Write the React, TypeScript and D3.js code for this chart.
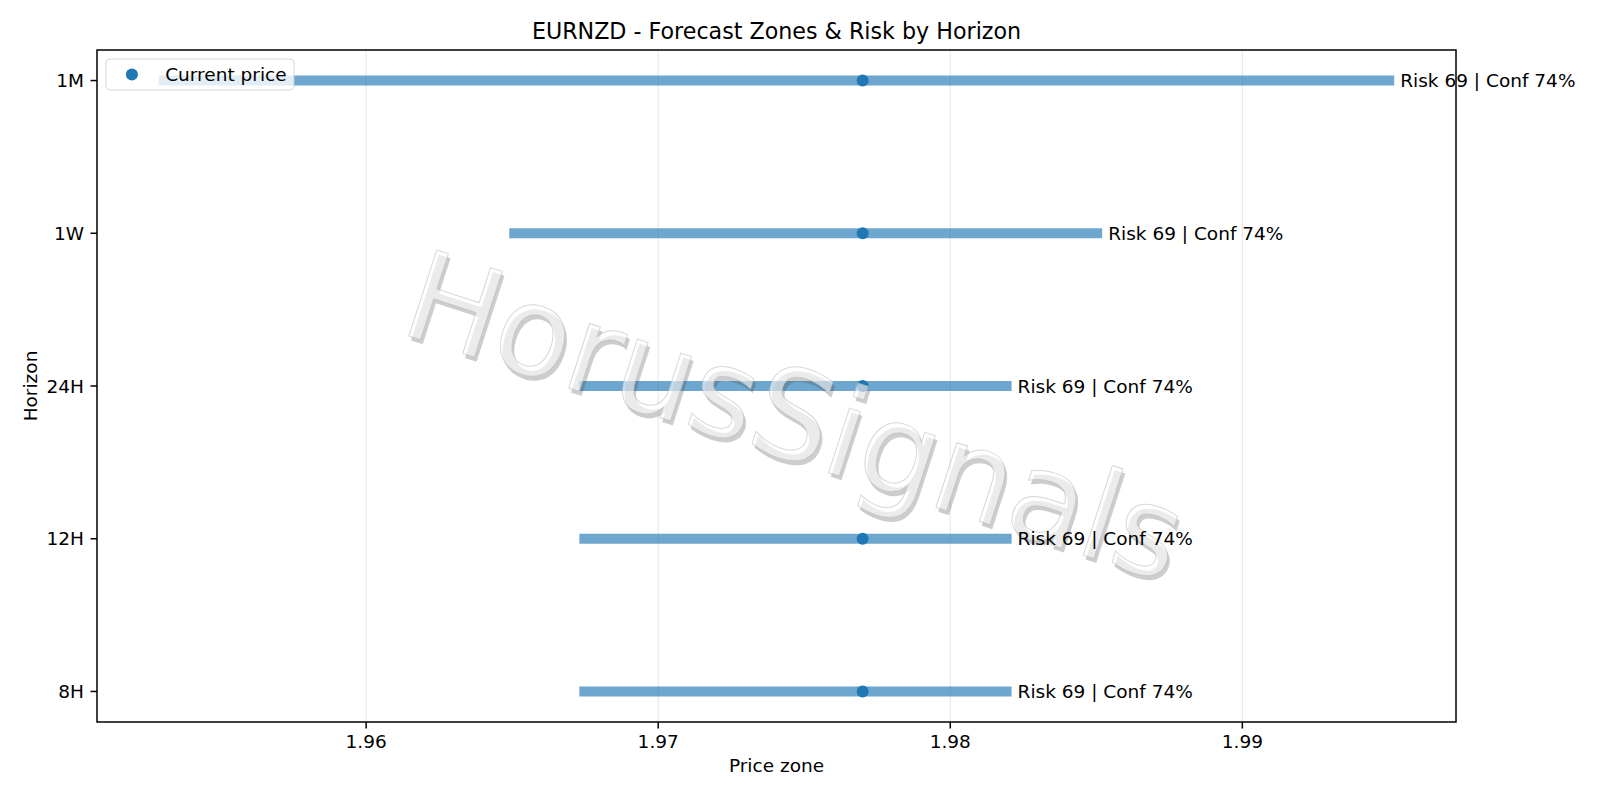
import React from "react";
import * as d3 from "d3";

const horizons = ["8H", "12H", "24H", "1W", "1M"];
const zoneLow = [1.9673, 1.9673, 1.9673, 1.9649, 1.9529];
const zoneHigh = [1.9821, 1.9821, 1.9821, 1.9852, 1.9952];
const currentPrice = 1.977;
const riskScores = [69, 69, 69, 69, 69];
const confidences = [74, 74, 74, 74, 74];
const xTicks = [1.96, 1.97, 1.98, 1.99];

const W = 1600;
const H = 800;
const M = { left: 97, right: 1456, top: 50, bottom: 722 };
const FONT = "DejaVu Sans, sans-serif";
const BLUE = "#1f77b4";

export default function App() {
  const lo = d3.min(zoneLow)!;
  const hi = d3.max(zoneHigh)!;
  const pad = (hi - lo) * 0.05;
  const x = d3.scaleLinear().domain([lo - pad, hi + pad]).range([M.left, M.right]);
  const y = d3
    .scaleLinear()
    .domain([-0.2, horizons.length - 1 + 0.2])
    .range([M.bottom, M.top]);

  const wmF = 124;

  return (
    <svg
      width={W}
      height={H}
      style={{ position: "absolute", left: 0, top: 0, background: "#fff" }}
      fontFamily={FONT}
    >
      <rect x={0} y={0} width={W} height={H} fill="#fff" />
      {/* grid */}
      {xTicks.map((t) => (
        <line
          key={"g" + t}
          x1={x(t)}
          x2={x(t)}
          y1={M.top}
          y2={M.bottom}
          stroke="#b0b0b0"
          strokeOpacity={0.3}
          strokeWidth={1.1}
        />
      ))}
      {/* zones */}
      {horizons.map((h, i) => (
        <line
          key={"z" + h}
          x1={x(zoneLow[i])}
          x2={x(zoneHigh[i])}
          y1={y(i)}
          y2={y(i)}
          stroke={BLUE}
          strokeOpacity={0.65}
          strokeWidth={10}
        />
      ))}
      {/* current price points */}
      {horizons.map((h, i) => (
        <circle key={"c" + h} cx={x(currentPrice)} cy={y(i)} r={6} fill={BLUE} />
      ))}
      {/* watermark */}
      <g transform={`translate(792,426) rotate(18)`}>
        <text
          x={3.5}
          y={wmF * 0.265 + 3.5}
          textAnchor="middle"
          fontSize={wmF}
          fill="rgb(77,77,77)"
          fillOpacity={0.28}
        >
          HorusSignals
        </text>
        <text
          x={0}
          y={wmF * 0.265}
          textAnchor="middle"
          fontSize={wmF}
          fill="#ffffff"
          fillOpacity={0.6}
          stroke="#b8b8b8"
          strokeOpacity={0.55}
          strokeWidth={1}
        >
          HorusSignals
        </text>
      </g>
      {/* annotations */}
      {horizons.map((h, i) => (
        <text
          key={"a" + h}
          x={x(zoneHigh[i]) + 6}
          y={y(i) + 6.7}
          fontSize={18.5}
          fill="#000"
        >
          {`Risk ${riskScores[i]} | Conf ${confidences[i]}%`}
        </text>
      ))}
      {/* frame */}
      <rect
        x={M.left}
        y={M.top}
        width={M.right - M.left}
        height={M.bottom - M.top}
        fill="none"
        stroke="#000"
        strokeWidth={1.5}
      />
      {/* x ticks */}
      {xTicks.map((t) => (
        <g key={"xt" + t}>
          <line x1={x(t)} x2={x(t)} y1={M.bottom} y2={M.bottom + 6.5} stroke="#000" strokeWidth={1.5} />
          <text x={x(t)} y={748} textAnchor="middle" fontSize={18.5}>
            {d3.format(".2f")(t)}
          </text>
        </g>
      ))}
      {/* y ticks */}
      {horizons.map((h, i) => (
        <g key={"yt" + h}>
          <line x1={M.left - 6.5} x2={M.left} y1={y(i)} y2={y(i)} stroke="#000" strokeWidth={1.5} />
          <text x={M.left - 13} y={y(i) + 6.7} textAnchor="end" fontSize={18.5}>
            {h}
          </text>
        </g>
      ))}
      {/* axis labels */}
      <text x={(M.left + M.right) / 2} y={772} textAnchor="middle" fontSize={18.5}>
        Price zone
      </text>
      <text
        transform={`translate(37.3,${(M.top + M.bottom) / 2}) rotate(-90)`}
        textAnchor="middle"
        fontSize={18.5}
      >
        Horizon
      </text>
      {/* title */}
      <text x={(M.left + M.right) / 2} y={38.7} textAnchor="middle" fontSize={22.2}>
        EURNZD - Forecast Zones &amp; Risk by Horizon
      </text>
      {/* legend */}
      <g>
        <rect
          x={106}
          y={59}
          width={188}
          height={31}
          rx={4}
          fill="#fff"
          fillOpacity={0.8}
          stroke="#cccccc"
          strokeOpacity={0.8}
          strokeWidth={1}
        />
        <circle cx={131.9} cy={74.5} r={6} fill={BLUE} />
        <text x={165.2} y={81.2} fontSize={18.5}>
          Current price
        </text>
      </g>
    </svg>
  );
}
